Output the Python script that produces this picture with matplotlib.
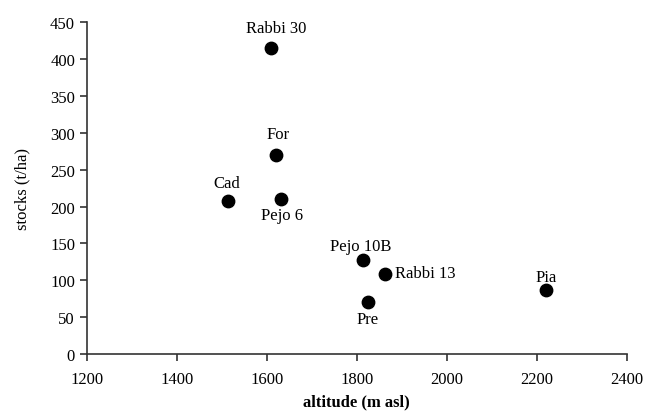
import matplotlib
matplotlib.use("Agg")
import matplotlib.pyplot as plt

sites = ["Rabbi 30", "For", "Cad", "Pejo 6", "Pejo 10B", "Rabbi 13", "Pre", "Pia"]
altitude = [1609, 1621, 1513, 1632, 1813, 1862, 1824, 2221]
stocks = [415, 270, 207, 210, 127, 109, 71, 87]

# label offsets in pixels (dx, dy) and alignment
offsets = {
    "Rabbi 30": (5, 20, "center"),
    "For": (2, 21, "center"),
    "Cad": (-1, 18, "center"),
    "Pejo 6": (1, -16, "center"),
    "Pejo 10B": (-2, 14, "center"),
    "Rabbi 13": (10, 1, "left"),
    "Pre": (0, -17, "center"),
    "Pia": (0, 13, "center"),
}

plt.rcParams['font.family'] = ['Liberation Serif', 'DejaVu Serif']
fig = plt.figure(figsize=(6.53, 4.14), dpi=100)
ax = fig.add_axes([0.133, 0.1425, 0.827, 0.8012])
ax.scatter(altitude, stocks, s=80, color='black', zorder=3)

for name, x, y in zip(sites, altitude, stocks):
    dx, dy, ha = offsets[name]
    ax.annotate(name, (x, y), xytext=(dx * 0.72, dy * 0.72), textcoords='offset points',
                ha=ha, va='center', fontsize=12)

ax.set_xlim(1200, 2400)
ax.set_ylim(0, 450)
ax.set_xticks(range(1200, 2401, 200))
ax.set_yticks(range(0, 451, 50))
ax.spines['top'].set_visible(False)
ax.spines['right'].set_visible(False)
for s in ['left', 'bottom']:
    ax.spines[s].set_linewidth(1.2)
    ax.spines[s].set_color('#333333')
ax.tick_params(direction='out', length=5, width=1.2, labelsize=12, colors='#333333', labelcolor='black')
ax.tick_params(axis='x', pad=7)
ax.set_xlabel("altitude (m asl)", fontsize=12, fontweight='semibold', labelpad=5)
ax.set_ylabel("stocks (t/ha)", fontsize=12, labelpad=14)

fig.savefig("out.png", dpi=100)
